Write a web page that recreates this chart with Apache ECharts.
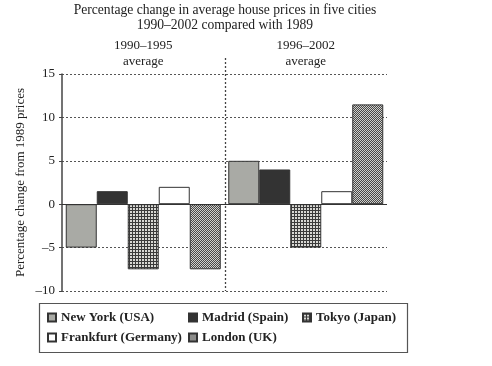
<!DOCTYPE html>
<html>
<head>
<meta charset="utf-8">
<script src="https://cdn.jsdelivr.net/npm/echarts@6/dist/echarts.min.js"></script>
<style>
html,body{margin:0;padding:0;background:#fff;}
#chart{width:492px;height:366px;}
</style>
</head>
<body>
<div id="chart"></div>
<script>
const titleLines = ['Percentage change in average house prices in five cities', '1990–2002 compared with 1989'];
const categories = ['1990–1995', '1996–2002'];
const categorySub = 'average';
const cities = ['New York (USA)', 'Madrid (Spain)', 'Tokyo (Japan)', 'Frankfurt (Germany)', 'London (UK)'];
const newYork = [-5, 5];
const madrid = [1.5, 4];
const tokyo = [-7.5, -5];
const frankfurt = [2, 1.5];
const london = [-7.5, 11.5];
const yTicks = [-10, -5, 0, 5, 10, 15];
const yTitle = 'Percentage change from 1989 prices';

const FONT = "'Liberation Serif','DejaVu Serif',serif";

function makePattern(size, draw) {
  const c = document.createElement('canvas');
  c.width = size; c.height = size;
  const ctx = c.getContext('2d');
  draw(ctx);
  return { image: c, repeat: 'repeat' };
}
const tokyoPattern = makePattern(3, ctx => {
  ctx.fillStyle = '#d8d8d4'; ctx.fillRect(0, 0, 3, 3);
  ctx.fillStyle = '#3a3a3a'; ctx.fillRect(0, 0, 3, 1); ctx.fillRect(0, 0, 1, 3);
});
const londonPattern = makePattern(2, ctx => {
  ctx.fillStyle = '#484848'; ctx.fillRect(0, 0, 2, 2);
  ctx.fillStyle = '#d0d0cc';
  ctx.fillRect(0, 0, 1, 1); ctx.fillRect(1, 1, 1, 1);
});

const fills = ['#a9aaa5', '#333333', tokyoPattern, '#ffffff', londonPattern];
const values = [newYork, madrid, tokyo, frankfurt, london];

const chart = echarts.init(document.getElementById('chart'), null, { renderer: 'canvas' });

const series = cities.map((name, i) => {
  const s = {
    name: name,
    type: 'bar',
    data: values[i],
    barWidth: 31,
    barGap: '0%',
    itemStyle: { color: fills[i], borderColor: '#333', borderWidth: 1 },
    emphasis: { disabled: true },
    animation: false
  };
  if (i === 0) {
    s.markLine = {
      silent: true, symbol: 'none', animation: false,
      label: { show: false },
      lineStyle: { color: '#333', type: 'solid', width: 1.2 },
      data: [{ yAxis: 0 }]
    };
  }
  return s;
});

const legendText = { fontFamily: FONT, fontSize: 13, fontWeight: 'bold', color: '#222' };
const legendBase = {
  orient: 'vertical', selectedMode: false, icon: 'rect',
  itemWidth: 8, itemHeight: 8, itemGap: 7, padding: 0,
  textStyle: legendText
};

chart.setOption({
  animation: false,
  backgroundColor: '#fff',
  title: {
    text: titleLines.join('\n'),
    left: 225, top: 3, textAlign: 'center', padding: 0,
    textStyle: { fontFamily: FONT, fontSize: 13.6, fontWeight: 'normal', color: '#222', lineHeight: 15 }
  },
  grid: { left: 62, right: 105, top: 74, bottom: 75 },
  legend: [
    Object.assign({}, legendBase, { data: [cities[0], cities[3]], left: 47, top: 311 }),
    Object.assign({}, legendBase, { data: [cities[1], cities[4]], left: 188, top: 311 }),
    Object.assign({}, legendBase, { data: [cities[2]], left: 302, top: 311 })
  ],
  xAxis: {
    type: 'category',
    position: 'top',
    data: categories,
    axisLine: { show: false, onZero: false },
    axisTick: { show: false },
    splitLine: { show: false },
    axisLabel: {
      formatter: v => v + '\n' + categorySub,
      fontFamily: FONT, fontSize: 13, lineHeight: 16, color: '#222', margin: 4
    }
  },
  yAxis: {
    type: 'value',
    min: yTicks[0], max: yTicks[yTicks.length - 1], interval: yTicks[1] - yTicks[0],
    name: yTitle, nameLocation: 'middle', nameRotate: 90, nameGap: 35,
    nameMoveOverlap: false,
    nameTextStyle: { fontFamily: FONT, fontSize: 13, color: '#222' },
    axisLine: { show: true, lineStyle: { color: '#444', width: 1.5 } },
    axisTick: { show: true, length: 3, lineStyle: { color: '#444' } },
    axisLabel: {
      formatter: v => String(v).replace('-', '–'),
      fontFamily: FONT, fontSize: 13, color: '#222', margin: 7
    },
    splitLine: { show: true, lineStyle: { color: '#555', type: [2, 2], width: 1 } }
  },
  series: series
});

// divider between the two period groups, and the legend frame
const x0 = chart.convertToPixel({ xAxisIndex: 0 }, categories[0]);
const x1 = chart.convertToPixel({ xAxisIndex: 0 }, categories[1]);
const xDiv = Math.round((x0 + x1) / 2) + 0.5;
const yBottom = chart.convertToPixel({ yAxisIndex: 0 }, yTicks[0]);
chart.setOption({
  graphic: [
    {
      type: 'line', silent: true,
      shape: { x1: xDiv, y1: 58, x2: xDiv, y2: yBottom },
      style: { stroke: '#444', lineWidth: 1.3, lineDash: [2, 2] }
    },
    {
      type: 'rect', silent: true,
      shape: { x: 39.5, y: 303.5, width: 368, height: 49 },
      style: { fill: 'none', stroke: '#555', lineWidth: 1.2 }
    }
  ]
});
</script>
</body>
</html>
